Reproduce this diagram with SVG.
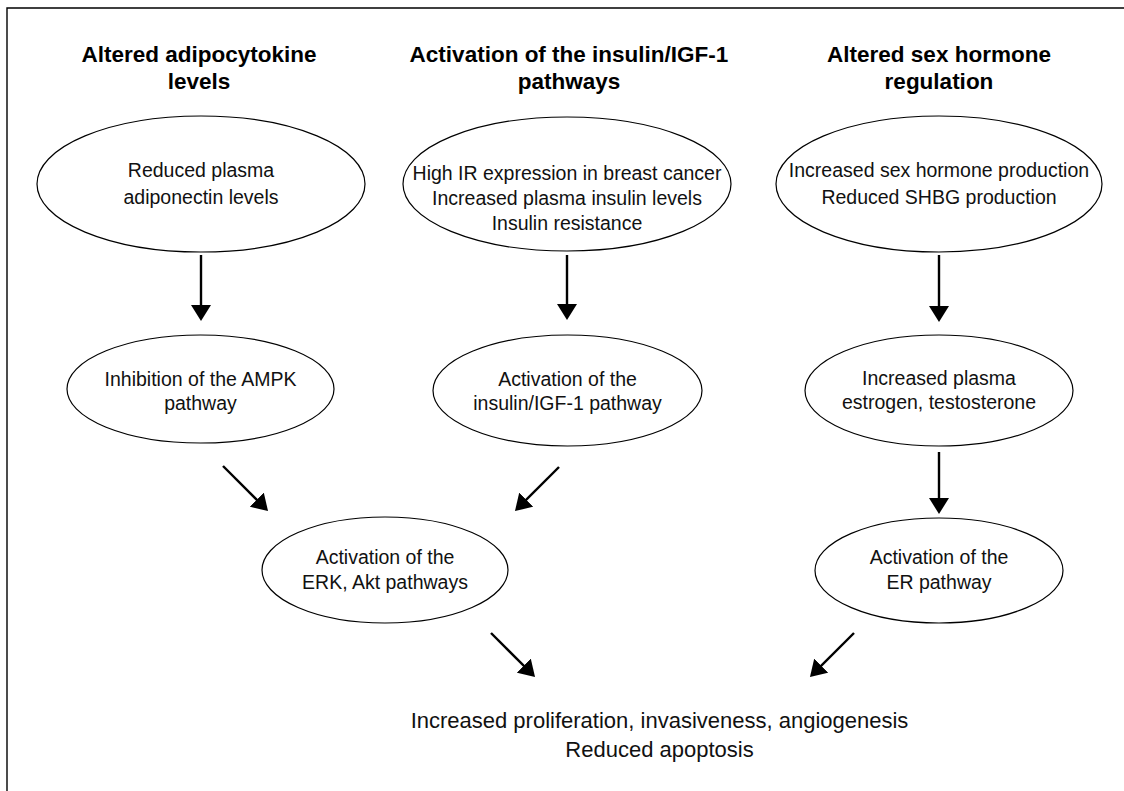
<svg xmlns="http://www.w3.org/2000/svg" width="1124" height="791" viewBox="0 0 1124 791">
<style>
.frame{stroke:#000;stroke-width:1.4;fill:none}
.node ellipse{fill:#fff;stroke:#000;stroke-width:1.2}
.title{font-family:"Liberation Sans",Arial,sans-serif;font-weight:bold;font-size:22.5px;text-anchor:middle;fill:#000}
.lbl{font-family:"Liberation Sans",Arial,sans-serif;font-size:19.5px;text-anchor:middle;fill:#111}
.out{font-family:"Liberation Sans",Arial,sans-serif;font-size:22px;text-anchor:middle;fill:#111}
.conn line{stroke:#000;stroke-width:2.4;marker-end:url(#ah)}
</style>
<defs>
<marker id="ah" markerUnits="userSpaceOnUse" markerWidth="16" markerHeight="20" refX="12" refY="10" orient="auto">
<path d="M0,0 L16,10 L0,20 z" fill="#000"/>
</marker>
</defs>
<rect width="1124" height="791" fill="#fff"/>
<path class="frame" d="M7,791 L7,8 L1124,8"/>
<g id="titles">
<text class="title" x="199" y="62">Altered adipocytokine</text>
<text class="title" x="199" y="89">levels</text>
<text class="title" x="569" y="62">Activation of the insulin/IGF-1</text>
<text class="title" x="569" y="89">pathways</text>
<text class="title" x="939" y="62">Altered sex hormone</text>
<text class="title" x="939" y="89">regulation</text>
</g>
<g id="n-adiponectin" class="node">
<ellipse cx="201" cy="184" rx="164" ry="68"/>
<text class="lbl" x="201" y="177">Reduced plasma</text>
<text class="lbl" x="201" y="204">adiponectin levels</text>
</g>
<g id="n-insulin" class="node">
<ellipse cx="567" cy="184" rx="164" ry="67"/>
<text class="lbl" x="567" y="180">High IR expression in breast cancer</text>
<text class="lbl" x="567" y="205">Increased plasma insulin levels</text>
<text class="lbl" x="567" y="230">Insulin resistance</text>
</g>
<g id="n-sexhormone" class="node">
<ellipse cx="939" cy="184" rx="163" ry="68"/>
<text class="lbl" x="939" y="177">Increased sex hormone production</text>
<text class="lbl" x="939" y="204">Reduced SHBG production</text>
</g>
<g id="n-ampk" class="node">
<ellipse cx="200.5" cy="389" rx="133.5" ry="54"/>
<text class="lbl" x="200.5" y="386">Inhibition of the AMPK</text>
<text class="lbl" x="200.5" y="410">pathway</text>
</g>
<g id="n-igf" class="node">
<ellipse cx="567.5" cy="390.5" rx="134.5" ry="55.5"/>
<text class="lbl" x="567.5" y="386">Activation of the</text>
<text class="lbl" x="567.5" y="410">insulin/IGF-1 pathway</text>
</g>
<g id="n-estrogen" class="node">
<ellipse cx="939" cy="390.5" rx="134" ry="55.5"/>
<text class="lbl" x="939" y="385">Increased plasma</text>
<text class="lbl" x="939" y="409">estrogen, testosterone</text>
</g>
<g id="n-erk" class="node">
<ellipse cx="385" cy="570" rx="123" ry="53"/>
<text class="lbl" x="385" y="564">Activation of the</text>
<text class="lbl" x="385" y="589">ERK, Akt pathways</text>
</g>
<g id="n-er" class="node">
<ellipse cx="939" cy="570.5" rx="124" ry="52.5"/>
<text class="lbl" x="939" y="564">Activation of the</text>
<text class="lbl" x="939" y="589">ER pathway</text>
</g>
<g id="n-outcome">
<text class="out" x="659.5" y="728">Increased proliferation, invasiveness, angiogenesis</text>
<text class="out" x="659.5" y="757">Reduced apoptosis</text>
</g>
<g id="connectors" class="conn">
<line x1="201" y1="255" x2="201" y2="317"/>
<line x1="567" y1="255" x2="567" y2="316"/>
<line x1="939" y1="255" x2="939" y2="318"/>
<line x1="223" y1="466" x2="265.2" y2="508.2"/>
<line x1="559" y1="467" x2="517.8" y2="508.2"/>
<line x1="939" y1="452" x2="939" y2="510"/>
<line x1="491" y1="633" x2="532.2" y2="674.2"/>
<line x1="854" y1="633" x2="812.8" y2="674.2"/>
</g>
</svg>
